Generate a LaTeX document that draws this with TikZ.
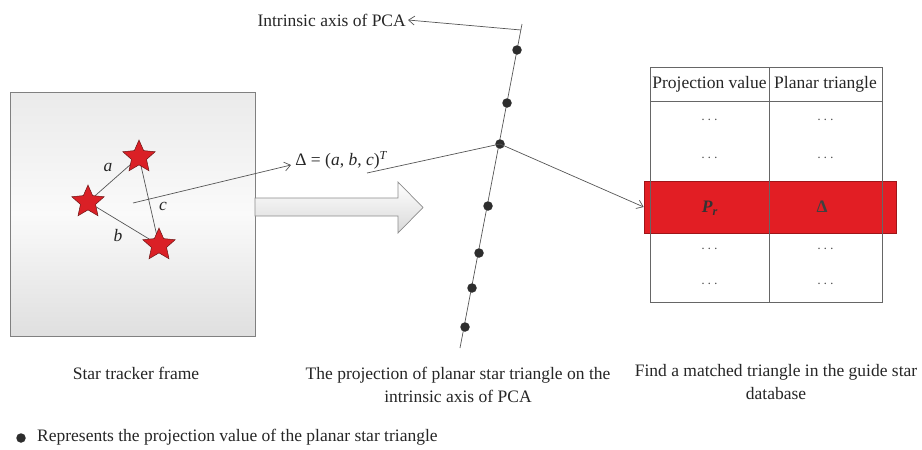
\documentclass[tikz,border=0pt]{standalone}
\usepackage{fontspec}
\setmainfont{Liberation Serif}
\usetikzlibrary{shapes.geometric,arrows.meta}
\definecolor{starred}{RGB}{218,32,38}
\definecolor{stardark}{RGB}{110,20,20}
\definecolor{rowred}{RGB}{226,30,36}
\definecolor{linegray}{RGB}{85,85,85}
\definecolor{dotgray}{RGB}{45,45,45}
\begin{document}
\begin{tikzpicture}[x=1pt,y=-1pt,
  txt/.style={font=\fontsize{17.5}{22.5}\selectfont, inner sep=0pt, text=black!85},
  lbl/.style={font=\fontsize{17.5}{20}\selectfont\itshape, inner sep=0pt, text=black!85},
  dts/.style={font=\fontsize{15}{16}\selectfont, inner sep=0pt, text=black!70},
  starnode/.style={star, star points=5, star point ratio=2.15, minimum size=34pt, inner sep=0pt, fill=starred, draw=stardark, line width=0.5pt},
  dotnode/.style={circle, fill=dotgray, minimum size=9.5pt, inner sep=0pt},
  conn/.style={draw=linegray, line width=0.7pt},
  arr/.style={conn, -{Straight Barb[length=6pt,width=9pt]}},
  tline/.style={draw=gray!80!black, line width=0.7pt}
]
\useasboundingbox (0,0) rectangle (922,450);

% frame
\node[draw=gray, line width=0.8pt, minimum width=245pt, minimum height=244pt,
      top color=gray!16, bottom color=gray!25, middle color=gray!4, inner sep=0pt] (frame) at (132.5,214) {};

% stars
\coordinate (c1) at (139,157);
\coordinate (c2) at (88,202);
\coordinate (c3) at (159,245);
\draw[conn] (c2) -- (c1);
\draw[conn] (c2) -- (c3);
\draw[conn] (c1) -- (c3);
\node[starnode] (s1) at (c1) {};
\node[starnode] (s2) at (c2) {};
\node[starnode] (s3) at (c3) {};
\node[lbl] (la) at (108,167) {a};
\node[lbl] (lb) at (118,236) {b};
\node[lbl] (lc) at (163,206) {c};

% big hollow arrow
\shade[top color=white, bottom color=gray!30, draw=gray!90, line width=0.7pt]
  (255,198) -- (398,198) -- (398,182) -- (423,207.5) -- (398,233) -- (398,216) -- (255,216) -- cycle;

% delta arrow
\coordinate (dstart) at (133,203);
\coordinate (dend) at (291,165);
\draw[arr] (dstart) -- (dend);
\node[txt] (delta) at (341.5,160) {Δ = (\textit{a}, \textit{b}, \textit{c})\textsuperscript{\textit{T}}};

% axis
\coordinate (axtop) at (522,24);
\coordinate (axbot) at (460,348);
\draw[conn] (axtop) -- (axbot);
\node[dotnode] (d1) at (517,50) {};
\node[dotnode] (d2) at (507,103) {};
\node[dotnode] (d3) at (500,144) {};
\node[dotnode] (d4) at (488,206) {};
\node[dotnode] (d5) at (479,253) {};
\node[dotnode] (d6) at (472,288) {};
\node[dotnode] (d7) at (465,327) {};

\coordinate (lstart) at (367,173);
\draw[conn] (lstart) -- (d3.center);

% axis label
\node[txt, anchor=east] (axlbl) at (406,20) {Intrinsic axis of PCA};
\coordinate (axmark) at (521,30);
\draw[arr] (axmark) -- ([xshift=2pt]axlbl.east);

% table
\node[fill=rowred, draw=rowred!70!black, line width=0.7pt, minimum width=252pt, minimum height=52pt, inner sep=0pt] (redrow) at (770,207) {};
\draw[tline] (650,67) rectangle (882,302);
\draw[tline] (650,101) -- (882,101);
\draw[tline] (769,67) -- (769,302);
\node[txt] (h1) at (709.5,84) {Projection value};
\node[txt] (h2) at (825.5,84) {Planar triangle};
\foreach \y/\n in {120/a,158/b,249/c,284/d}{
  \node[dts] (l\n) at (709.5,\y) {$\cdots$};
  \node[dts] (r\n) at (825.5,\y) {$\cdots$};
}
\node[txt, font=\fontsize{17.5}{20}\selectfont\bfseries, text=black!80] (pr) at (710,208) {\textit{P}\textsubscript{\textit{r}}};
\node[txt, font=\fontsize{17.5}{20}\selectfont\bfseries, text=black!75] (dl) at (822,207) {Δ};

\draw[arr] (d3.center) -- (redrow.west);

% captions
\node[txt] (cap1) at (136,373) {Star tracker frame};
\node[txt, align=center] (cap2) at (458,385) {The projection of planar star triangle on the\\intrinsic axis of PCA};
\node[txt, align=center] (cap3) at (776,382) {Find a matched triangle in the guide star\\database};
\node[dotnode] (ldot) at (21,438) {};
\node[txt, anchor=west] (legend) at (37,437) {Represents the projection value of the planar star triangle};
\end{tikzpicture}
\end{document}
